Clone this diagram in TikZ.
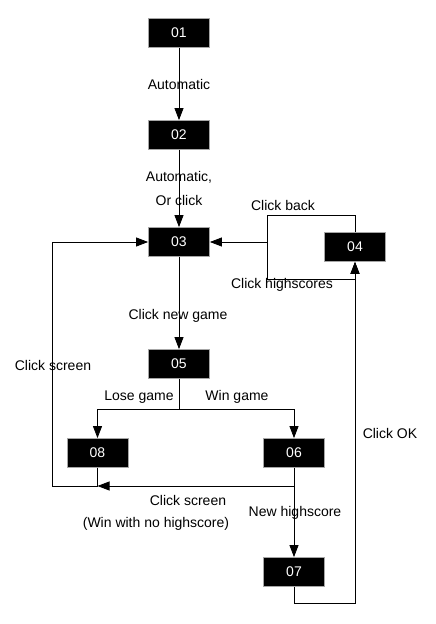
\documentclass[tikz,border=0pt]{standalone}
\usepackage{fontspec}
\setmainfont{Liberation Sans}
\usetikzlibrary{arrows.meta}
\begin{document}
\begin{tikzpicture}[x=1pt,y=-1pt,
  state/.style={draw=gray!70,line width=0.8pt,fill=black,text=white,minimum width=61pt,minimum height=29pt,inner sep=0pt,font=\fontsize{14}{16}\selectfont},
  lbl/.style={font=\fontsize{14}{16}\selectfont,inner sep=0pt,anchor=center},
  conn/.style={line width=0.8pt,-{Triangle[length=12pt,width=9pt]}},
  plain/.style={line width=0.8pt}]
\useasboundingbox (0,0) rectangle (436,624);
\node[state] (s01) at (179,33) {01};
\node[state] (s02) at (179,135) {02};
\node[state] (s03) at (179,242) {03};
\node[state] (s04) at (355,247) {04};
\node[state] (s05) at (179,364) {05};
\node[state] (s08) at (97.5,453) {08};
\node[state] (s06) at (294,453) {06};
\node[state] (s07) at (294,572) {07};

\coordinate (j4) at (267,242);
\coordinate (j5) at (179,409);
\coordinate (j8) at (97.5,486);
\coordinate (j6) at (294,486);

\draw[conn] (s01) -- (s02);
\draw[conn] (s02) -- (s03);
\draw[conn] (s03) -- (s05);
\draw[conn] (s04.north) |- (267,215) -- (j4) -- (s03);
\draw[conn] (j4) |- (355,279) -- (s04.south);
\draw[plain] (s05) -- (j5);
\draw[conn] (j5) -| (s08);
\draw[conn] (j5) -| (s06);
\draw[conn] (s06) -- (s07);
\draw[plain] (s08) -- (j8);
\draw[conn] (j8) -| (52,242) -- (s03);
\draw[conn] (s06.south) |- (j8);
\draw[conn] (s07.south) |- (355,603) -- (s04.south);

\node[lbl] (l1) at (179,84) {Automatic};
\node[lbl] (l2) at (179,177) {Automatic,};
\node[lbl] (l3) at (179,200) {Or click};
\node[lbl] (l4) at (283,205) {Click back};
\node[lbl] (l5) at (282,285) {Click highscores};
\node[lbl] (l6) at (178,316) {Click new game};
\node[lbl] (l7) at (53,365) {Click screen};
\node[lbl] (l8) at (139,397) {Lose game};
\node[lbl] (l9) at (237,397) {Win game};
\node[lbl] (l10) at (390,433) {Click OK};
\node[lbl] (l11) at (188,500) {Click screen};
\node[lbl] (l12) at (156,524) {(Win with no highscore)};
\node[lbl] (l13) at (295,513) {New highscore};
\end{tikzpicture}
\end{document}
